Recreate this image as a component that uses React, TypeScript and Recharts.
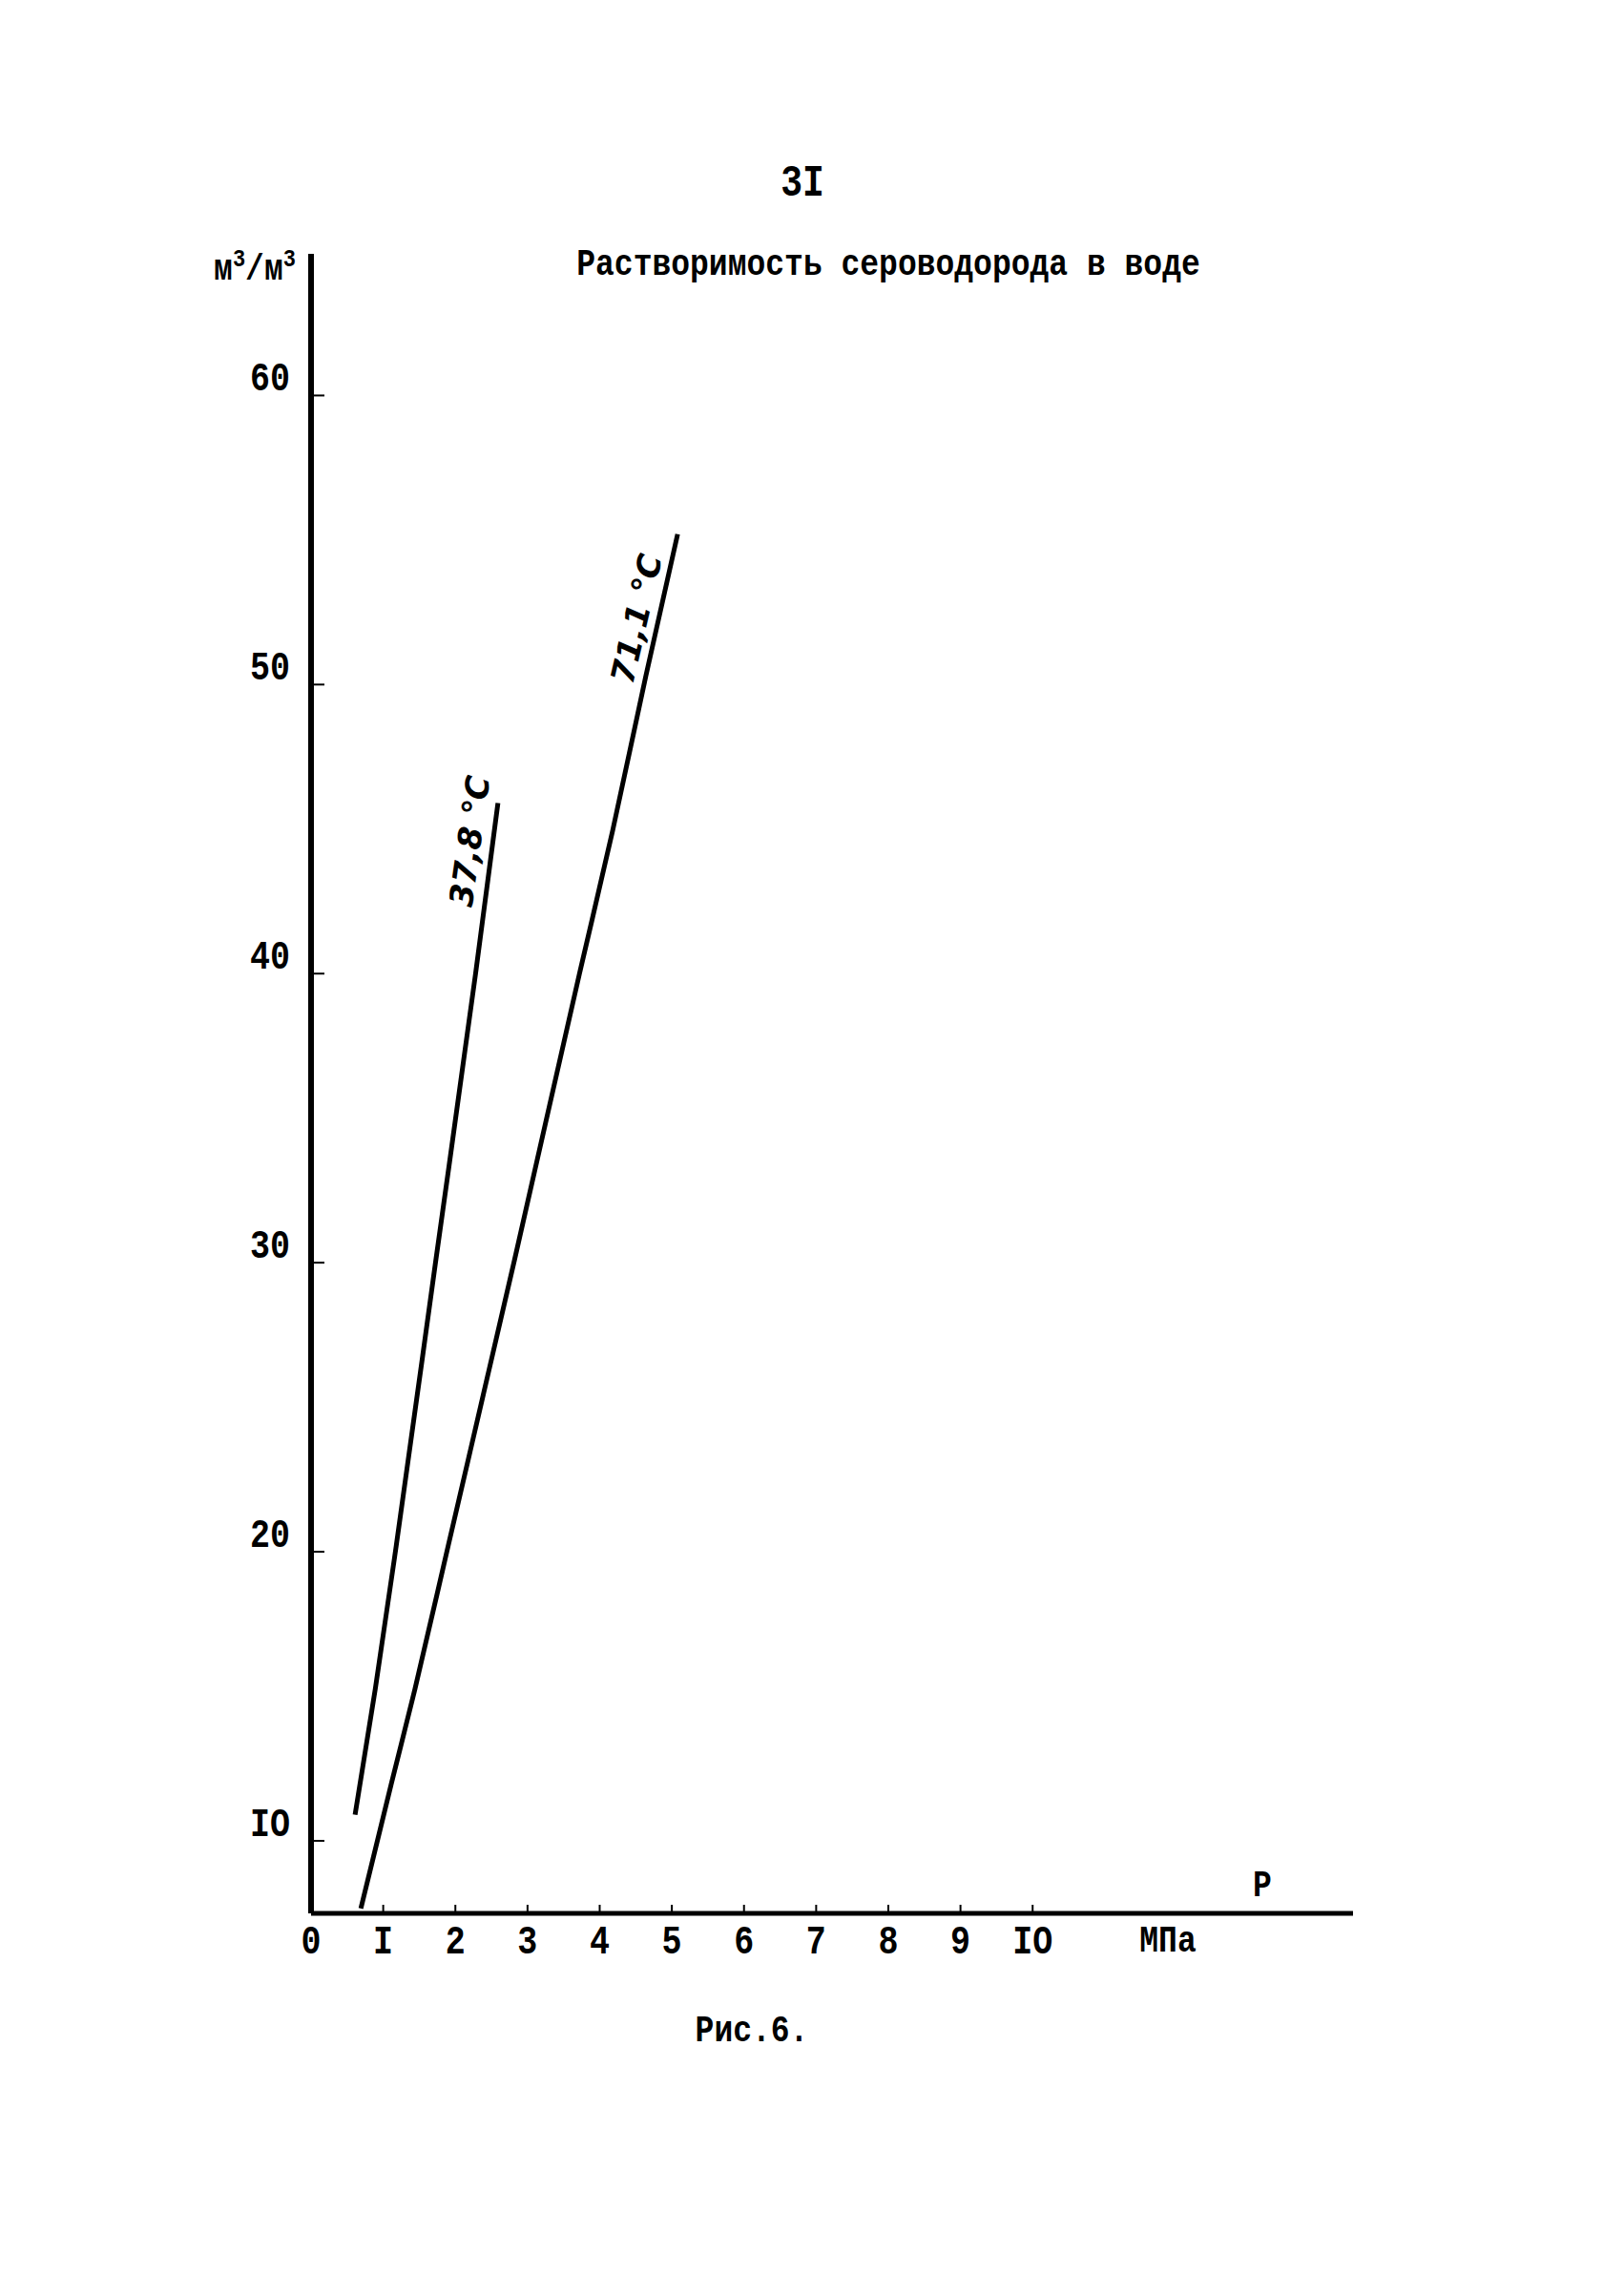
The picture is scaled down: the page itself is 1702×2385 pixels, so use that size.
import React from 'react';
import { LineChart, Line, XAxis, YAxis } from 'recharts';

// Solubility of H2S in water, m3/m3 vs pressure, MPa
const pressure378 = [0.61, 0.89, 1.18, 1.73, 2.28, 2.54, 2.59];
const solub378 = [10.9, 15.25, 20.2, 30.1, 40.0, 44.95, 45.9];

const pressure711 = [0.69, 1.11, 1.44, 1.9, 2.82, 3.72, 4.18, 4.64, 5.08];
const solub711 = [7.66, 11.95, 15.25, 20.2, 30.1, 40.0, 44.95, 50.3, 55.2];

const xTicks = [0, 1, 2, 3, 4, 5, 6, 7, 8, 9, 10];
const xTickLabels = ['0', 'I', '2', '3', '4', '5', '6', '7', '8', '9', 'IO'];
const yTicks = [10, 20, 30, 40, 50, 60];
const yTickLabels = ['IO', '20', '30', '40', '50', '60'];

const data378 = pressure378.map((p, i) => ({ p, v: solub378[i] }));
const data711 = pressure711.map((p, i) => ({ p, v: solub711[i] }));

const FONT = '"Liberation Mono", "DejaVu Sans Mono", monospace';
const INK = '#000';

const YTick = (props: any) => {
  const { x, y, payload } = props;
  const label = yTickLabels[yTicks.indexOf(payload.value)];
  return (
    <g>
      <line x1={x} y1={y} x2={x + 14} y2={y} stroke={INK} strokeWidth={2} />
      <text x={x - 22} y={y - 16} textAnchor="end" dominantBaseline="central"
        fontFamily={FONT} fontWeight="bold" fontSize={35} fill={INK}
        transform={`translate(0 ${y - 16}) scale(1 1.2) translate(0 ${-(y - 16)})`}>{label}</text>
    </g>
  );
};

const XTick = (props: any) => {
  const { x, y, payload } = props;
  const label = xTickLabels[xTicks.indexOf(payload.value)];
  return (
    <g>
      {payload.value > 0 && <line x1={x} y1={y} x2={x} y2={y - 9} stroke={INK} strokeWidth={2} />}
      <text x={x} y={y + 31} textAnchor="middle" dominantBaseline="central"
        fontFamily={FONT} fontWeight="bold" fontSize={35} fill={INK}
        transform={`translate(0 ${y + 31}) scale(1 1.2) translate(0 ${-(y + 31)})`}>{label}</text>
    </g>
  );
};

// rotated handwritten curve label, placed at one point of the line
const curveLabel = (text: string, at: number, dx: number, dy: number, angle: number) => (props: any) => {
  const { x, y, index } = props;
  if (index !== at) return null;
  const cx = x + dx;
  const cy = y + dy;
  return (
    <text x={cx} y={cy} textAnchor="middle" dominantBaseline="central"
      transform={`rotate(${angle} ${cx} ${cy})`}
      fontFamily='"DejaVu Sans", sans-serif' fontStyle="italic" fontWeight="bold"
      fontSize={34} fill={INK}>{text}</text>
  );
};

const textStyle: React.CSSProperties = {
  position: 'absolute',
  transform: 'translate(-50%, -50%) scaleY(1.2)',
  fontFamily: FONT,
  fontWeight: 'bold',
  color: INK,
  whiteSpace: 'nowrap',
  lineHeight: 1,
};

export default function App() {
  return (
    <div style={{ position: 'absolute', left: 0, top: 0, width: 1702, height: 2385, background: '#fff' }}>
      <LineChart width={1702} height={2385} margin={{ top: 266, right: 284, left: 226, bottom: 320 }}>
        <XAxis
          type="number"
          dataKey="p"
          domain={[0, 14.44]}
          ticks={xTicks}
          allowDataOverflow
          height={60}
          tickSize={0}
          tickMargin={0}
          tickLine={false}
          axisLine={{ stroke: INK, strokeWidth: 5 }}
          tick={<XTick />}
          interval={0}
        />
        <YAxis
          type="number"
          dataKey="v"
          domain={[7.49, 64.9]}
          ticks={yTicks}
          allowDataOverflow
          width={100}
          tickSize={0}
          tickMargin={0}
          tickLine={false}
          axisLine={{ stroke: INK, strokeWidth: 6 }}
          tick={<YTick />}
          interval={0}
        />
        <Line
          data={data378}
          dataKey="v"
          type="monotone"
          stroke={INK}
          strokeWidth={5}
          dot={false}
          isAnimationActive={false}
          label={curveLabel('37,8 °C', 5, -26, 11, -82)}
        />
        <Line
          data={data711}
          dataKey="v"
          type="monotone"
          stroke={INK}
          strokeWidth={5}
          dot={false}
          isAnimationActive={false}
          label={curveLabel('71,1 °C', 7, -10, -60, -77)}
        />
      </LineChart>
      <div style={{ ...textStyle, left: 841, top: 193, fontSize: 38 }}>3I</div>
      <div style={{ ...textStyle, left: 931, top: 278, fontSize: 33 }}>Растворимость сероводорода в воде</div>
      <div style={{ ...textStyle, left: 267, top: 281, fontSize: 33 }}>
        м<sup style={{ fontSize: 22 }}>3</sup>/м<sup style={{ fontSize: 22 }}>3</sup>
      </div>
      <div style={{ ...textStyle, left: 1224, top: 2035, fontSize: 33 }}>МПа</div>
      <div style={{ ...textStyle, left: 1323, top: 1977, fontSize: 33 }}>P</div>
      <div style={{ ...textStyle, left: 788, top: 2129, fontSize: 33 }}>Рис.6.</div>
    </div>
  );
}
